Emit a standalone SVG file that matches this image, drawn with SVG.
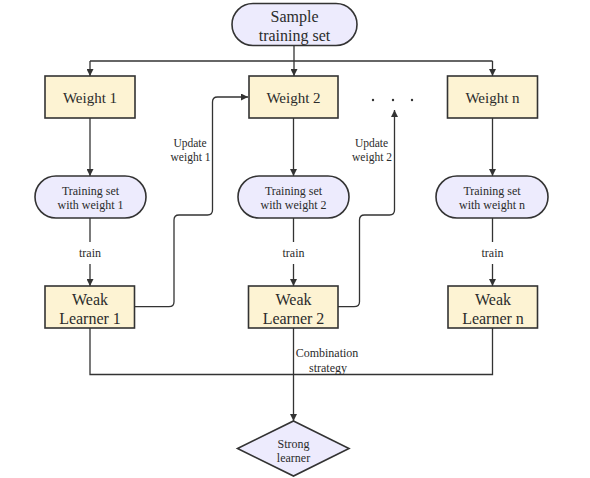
<svg xmlns="http://www.w3.org/2000/svg" width="590" height="478" viewBox="0 0 590 478" font-family="'Liberation Serif', 'DejaVu Serif', serif">
<style>
text{font-family:'Liberation Serif','DejaVu Serif',serif;fill:#2b2b2b;text-anchor:middle}
.pill{fill:#EDEBFD;stroke:#333;stroke-width:1.6}
.box{fill:#FDF3D3;stroke:#333;stroke-width:1.6}
.c{fill:none;stroke:#333;stroke-width:1.3}
.t16{font-size:16px}
.t15{font-size:15px}
.t12{font-size:12px}
.t11{font-size:11.5px}
</style>
<defs>
<marker id="arr" viewBox="0 0 8 8" refX="8" refY="4" markerWidth="7" markerHeight="7" markerUnits="userSpaceOnUse" orient="auto">
<path d="M0,0 L8,4 L0,8 z" fill="#333"/>
</marker>
</defs>
<rect width="590" height="478" fill="#fff"/>

<g id="connectors">
<path class="c" d="M294,46 V76" marker-end="url(#arr)"/>
<path class="c" d="M90,61 H492.5"/>
<path class="c" d="M90,61 V76" marker-end="url(#arr)"/>
<path class="c" d="M492.5,61 V76" marker-end="url(#arr)"/>
<path class="c" d="M90,118 V176" marker-end="url(#arr)"/>
<path class="c" d="M293.5,118 V176" marker-end="url(#arr)"/>
<path class="c" d="M492.5,118 V176" marker-end="url(#arr)"/>
<path class="c" d="M90,218 V242"/>
<path class="c" d="M90,264 V286" marker-end="url(#arr)"/>
<path class="c" d="M293.5,218 V242"/>
<path class="c" d="M293.5,264 V286" marker-end="url(#arr)"/>
<path class="c" d="M492.5,218 V242"/>
<path class="c" d="M492.5,264 V286" marker-end="url(#arr)"/>
<path class="c" d="M134,306.7 H169 Q174,306.7 174,301.7 V220 Q174,215 179,215 H207.5 Q212.5,215 212.5,210 V102 Q212.5,97 217.5,97 H248" marker-end="url(#arr)"/>
<path class="c" d="M338,306.7 H354 Q359.5,306.7 359.5,301.7 V220 Q359.5,215 364.5,215 H389.5 Q394.5,215 394.5,210 V110" marker-end="url(#arr)"/>
<path class="c" d="M90,328 V374.5 H492.5 V328"/>
<path class="c" d="M293.5,328 V421" stroke-width="1.6" marker-end="url(#arr)"/>
<text class="t11" x="190" y="147">Update</text>
<text class="t11" x="190.5" y="161">weight 1</text>
<text class="t11" x="371.5" y="147">Update</text>
<text class="t11" x="372" y="161">weight 2</text>
<text class="t12" x="90" y="257">train</text>
<text class="t12" x="293.5" y="257">train</text>
<text class="t12" x="492.5" y="257">train</text>
<text class="t12" x="327" y="357">Combination</text>
<text class="t12" x="328" y="371.5">strategy</text>
</g>

<g id="sample">
<rect class="pill" x="232" y="3.5" width="125" height="42" rx="21"/>
<text class="t16" x="294.5" y="22">Sample</text>
<text class="t16" x="294.5" y="40.5">training set</text>
</g>

<g id="weight1">
<rect class="box" x="45" y="76" width="90" height="42"/>
<text class="t15" x="90" y="103">Weight 1</text>
</g>
<g id="weight2">
<rect class="box" x="249" y="76" width="89" height="42"/>
<text class="t15" x="293.5" y="103">Weight 2</text>
</g>
<g id="dots">
<circle cx="373" cy="100" r="1.2" fill="#333"/>
<circle cx="393" cy="100" r="1.2" fill="#333"/>
<circle cx="412" cy="100" r="1.2" fill="#333"/>
</g>
<g id="weightn">
<rect class="box" x="447.5" y="76" width="90" height="42"/>
<text class="t15" x="492.5" y="103">Weight n</text>
</g>

<g id="ts1">
<rect class="pill" x="35" y="176" width="111" height="42" rx="21"/>
<text class="t12" x="90.5" y="195">Training set</text>
<text class="t12" x="90.5" y="208.5">with weight 1</text>
</g>
<g id="ts2">
<rect class="pill" x="238" y="176" width="111" height="42" rx="21"/>
<text class="t12" x="293.5" y="195">Training set</text>
<text class="t12" x="293.5" y="208.5">with weight 2</text>
</g>
<g id="tsn">
<rect class="pill" x="436" y="176" width="112" height="42" rx="21"/>
<text class="t12" x="492" y="195">Training set</text>
<text class="t12" x="492" y="208.5">with weight n</text>
</g>

<g id="wl1">
<rect class="box" x="45" y="286" width="89.5" height="42"/>
<text class="t16" x="90" y="304.5">Weak</text>
<text class="t16" x="90" y="323.5">Learner 1</text>
</g>
<g id="wl2">
<rect class="box" x="248.5" y="286" width="89.5" height="42"/>
<text class="t16" x="293.5" y="304.5">Weak</text>
<text class="t16" x="293.5" y="323.5">Learner 2</text>
</g>
<g id="wln">
<rect class="box" x="448" y="286" width="89.5" height="42"/>
<text class="t16" x="493" y="304.5">Weak</text>
<text class="t16" x="493" y="323.5">Learner n</text>
</g>

<g id="strong">
<polygon class="pill" points="293.5,421 349,448.5 293.5,476 237.5,448.5"/>
<text class="t12" x="293.5" y="447.5">Strong</text>
<text class="t12" x="293.5" y="461.5">learner</text>
</g>
</svg>
